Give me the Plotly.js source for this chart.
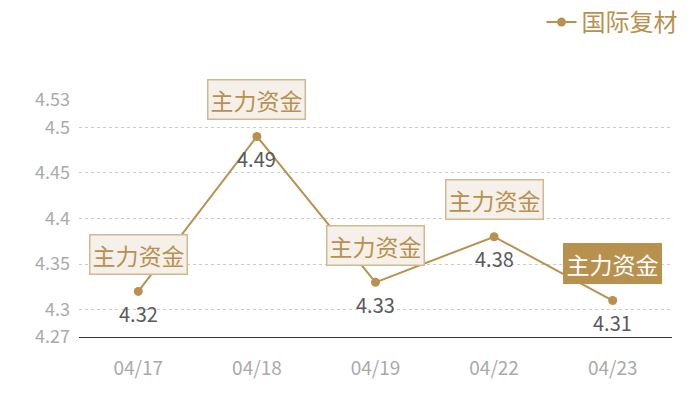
<!DOCTYPE html>
<html><head><meta charset="utf-8">
<script src="https://cdn.plot.ly/plotly-3.0.1.min.js"></script>
<style>body{margin:0;background:#fff}#c{width:700px;height:400px}</style>
</head><body><div id="c"></div>
<script>
const categories = ['04/17','04/18','04/19','04/22','04/23'];
const values = [4.32, 4.49, 4.33, 4.38, 4.31];
const seriesName = '国际复材';
const noteText = '主力资金';
const highlightIndex = 4;
const tickVals = [4.27, 4.3, 4.35, 4.4, 4.45, 4.5, 4.53];
const tickText = ['4.27','4.3','4.35','4.4','4.45','4.5','4.53'];

const gold = '#b8914f';
const font = '"Noto Sans CJK SC", "Noto Sans", sans-serif';

const trace = {
  x: categories, y: values, type: 'scatter', mode: 'lines+markers',
  name: seriesName,
  line: {color: gold, width: 2},
  marker: {color: gold, size: 9},
  cliponaxis: false
};

const noteAnnotations = categories.map((c, i) => ({
  x: c, y: values[i], xref: 'x', yref: 'y',
  text: noteText, showarrow: false, yshift: 37,
  font: {family: font, size: 23, color: i === highlightIndex ? '#ffffff' : gold},
  bgcolor: i === highlightIndex ? gold : '#f5f0ea',
  bordercolor: i === highlightIndex ? gold : '#d2b88e',
  borderwidth: 1.5, borderpad: 2
}));

const valueAnnotations = categories.map((c, i) => ({
  x: c, y: values[i], xref: 'x', yref: 'y',
  text: values[i].toFixed(2), showarrow: false, yshift: -22,
  font: {family: font, size: 20, color: '#5a5a5a'}
}));

const layout = {
  width: 700, height: 400,
  margin: {l: 79, r: 28, t: 100, b: 63},
  paper_bgcolor: '#fff', plot_bgcolor: '#fff',
  showlegend: true,
  legend: {xref: 'container', yref: 'container', x: 0.975, xanchor: 'right', y: 1, yanchor: 'top',
    orientation: 'h', font: {family: font, size: 24, color: gold}, bgcolor: 'rgba(0,0,0,0)'},
  xaxis: {type: 'category', range: [-0.5, 4.5], showgrid: false, zeroline: false,
    showline: true, linecolor: '#333', linewidth: 1,
    ticks: '', ticklabelstandoff: 14, tickfont: {family: font, size: 19, color: '#aaaaaa'}},
  yaxis: {range: [4.27, 4.53], tickvals: tickVals, ticktext: tickText,
    showgrid: true, gridcolor: '#cccccc', griddash: 'dot', gridwidth: 1,
    zeroline: false, showline: false, ticks: '', ticklabelstandoff: 8,
    tickfont: {family: font, size: 18, color: '#aaaaaa'}},
  annotations: valueAnnotations.concat(noteAnnotations)
};

Plotly.newPlot('c', [trace], layout, {displayModeBar: false, staticPlot: true});
</script>
</body></html>
